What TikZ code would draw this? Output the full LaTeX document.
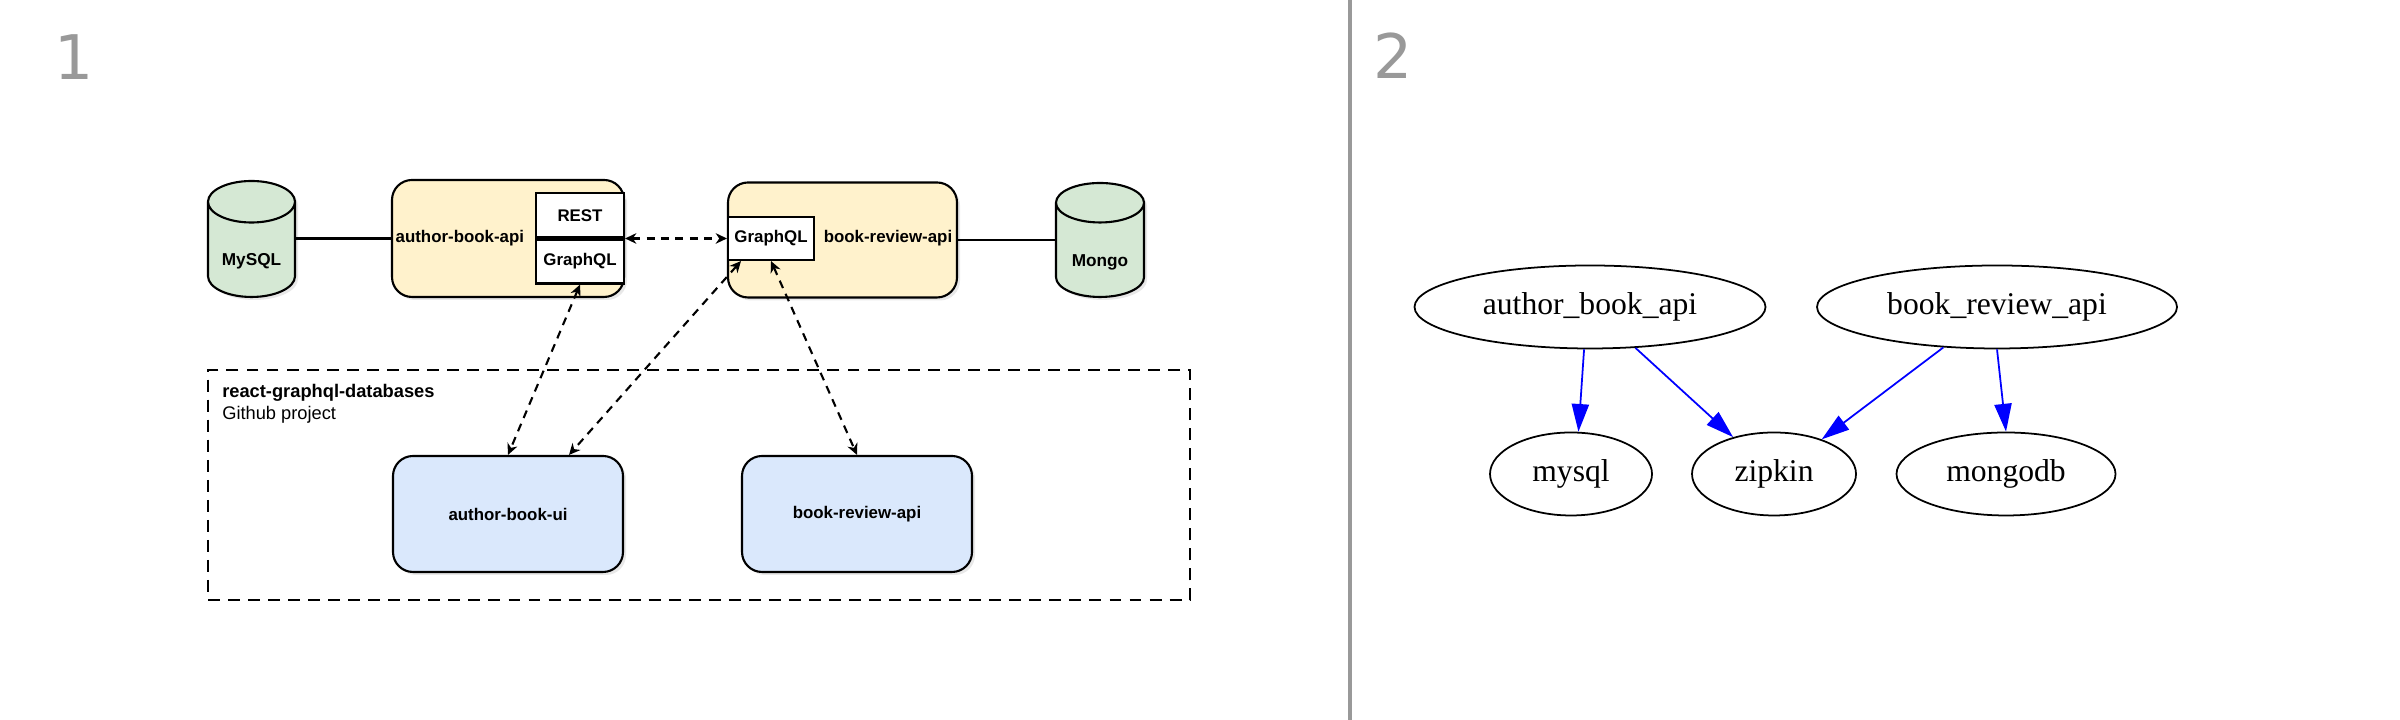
\documentclass[tikz,border=0pt]{standalone}
\usepackage{fontspec}
\setmainfont{Liberation Serif}
\setsansfont{Liberation Sans}
\newfontfamily\numfont{DejaVu Sans}
\usepackage{tikz}
\usetikzlibrary{positioning, shapes.geometric, arrows.meta, shadows}

\definecolor{apifill}{HTML}{FFF2CC}
\definecolor{dbfill}{HTML}{D5E8D4}
\definecolor{uifill}{HTML}{DAE8FC}
\definecolor{numgray}{HTML}{999999}

\begin{document}
\begin{tikzpicture}[
		font=\sffamily\fontsize{5.2}{6}\selectfont,
		softshadow/.style={drop shadow={opacity=0.18, shadow xshift=0.03cm, shadow yshift=-0.03cm}},
		db/.style={cylinder, shape border rotate=90, aspect=0.7, draw, line width=0.6pt, fill=dbfill, anchor=shape center,
			minimum width=0.87cm, minimum height=1.16cm, inner sep=0pt, text height=9pt, text depth=0pt,
			font=\sffamily\bfseries\fontsize{4.9}{6}\selectfont, softshadow},
		svc/.style={rectangle, rounded corners=0.2cm, draw, line width=0.6pt, minimum width=2.3cm, minimum height=1.16cm,
			font=\sffamily\bfseries\fontsize{4.8}{6}\selectfont, softshadow},
		iface/.style={rectangle, draw, line width=0.6pt, fill=white, minimum width=0.88cm, minimum height=0.44cm,
			inner sep=0pt, font=\sffamily\bfseries\fontsize{4.8}{6}\selectfont},
		lbl/.style={font=\sffamily\bfseries\fontsize{4.8}{6}\selectfont, inner sep=0pt},
		dbline/.style={line width=0.6pt},
		gqlcall/.style={line width=0.6pt, dash pattern=on 2.3pt off 1.8pt,
			{Stealth[length=3.2pt, width=3pt, inset=1pt]}-{Stealth[length=3.2pt, width=3pt, inset=1pt]}},
		dep/.style={ellipse, draw, line width=0.5pt, minimum height=0.83cm, inner sep=0pt, font=\rmfamily\fontsize{9}{10}\selectfont},
		dagarrow/.style={blue, line width=0.5pt, -{Triangle[length=7.9pt, width=4.9pt]}},
	]
		\useasboundingbox (0, 0) rectangle (24, 7.2);

		% panel numbers and divider
		\node[numgray, font=\numfont\fontsize{17.5}{18}\selectfont] (num1) at (0.745, 6.625) {1};
		\node[numgray, font=\numfont\fontsize{17.5}{18}\selectfont] (num2) at (13.935, 6.64) {2};
		\draw[numgray, line width=1.4pt] (13.50, 0) -- (13.50, 7.2);

		% panel 1
		\node[db] (mysql) at (2.515, 4.81) {MySQL};
		\node[svc, fill=apifill, minimum width=2.32cm, minimum height=1.17cm] (abapi) at (5.08, 4.815) {};
		\node[lbl, anchor=west] (abapiName) at ([xshift=0.04cm]abapi.west) {author-book-api};
		\node[iface, anchor=south east] (abrest) at (abapi.east) {REST};
		\node[iface, anchor=north east] (abgql) at (abapi.east) {GraphQL};

		\node[svc, fill=apifill, minimum width=2.29cm, minimum height=1.15cm] (brapi) at (8.425, 4.80) {};
		\node[iface, anchor=west, minimum width=0.86cm, minimum height=0.43cm] (brgql) at ([yshift=0.015cm]brapi.west) {GraphQL};
		\node[lbl, right=0.08cm of brgql] (brapiName) {book-review-api};
		\node[db, minimum width=0.88cm, minimum height=1.14cm] (mongo) at (11.00, 4.80) {Mongo};

		\draw[dbline] (abapi.west) -- (abapi.west -| mysql.east);
		\draw[dbline] (brapi.east) -- (brapi.east -| mongo.west);

		\node[draw, line width=0.8pt, dash pattern=on 3.4pt off 2.3pt, minimum width=9.82cm, minimum height=2.30cm] (repo) at (6.99, 2.35) {};
		\node[lbl, align=left, anchor=north west, font=\sffamily\fontsize{5.2}{6.2}\selectfont] (repoName)
			at ([xshift=0.15cm, yshift=-0.15cm]repo.north west) {\textbf{react-graphql-databases}\\Github project};
		\node[svc, fill=uifill] (abui) at (5.08, 2.06) {author-book-ui};
		\node[svc, fill=uifill] (brui) at (8.57, 2.06) {book-review-api};

		\draw[gqlcall] (abgql.north east) -- (brgql.west);
		\draw[gqlcall] (abgql.south) -- (abui.north);
		\draw[gqlcall] ([xshift=-0.3cm]brgql.south) -- ([xshift=0.61cm]abui.north);
		\draw[gqlcall] (brgql.south) -- (brui.north);

		% panel 2
		\node[dep, minimum width=3.51cm] (abapiDep) at (15.90, 4.13) {author\_book\_api};
		\node[dep, minimum width=3.60cm] (brapiDep) at (19.97, 4.13) {book\_review\_api};
		\node[dep, minimum width=1.62cm] (mysqlDep) at (15.71, 2.46) {mysql};
		\node[dep, minimum width=1.64cm] (zipkinDep) at (17.74, 2.46) {zipkin};
		\node[dep, minimum width=2.19cm] (mongoDep) at (20.06, 2.46) {mongodb};

		\draw[dagarrow] (abapiDep.-98) -- (mysqlDep.80);
		\draw[dagarrow] (abapiDep.-42) -- (zipkinDep.138);
		\draw[dagarrow] (brapiDep.217) -- (zipkinDep.36);
		\draw[dagarrow] (brapiDep.south) -- (mongoDep.north);
	\end{tikzpicture}
\end{document}
